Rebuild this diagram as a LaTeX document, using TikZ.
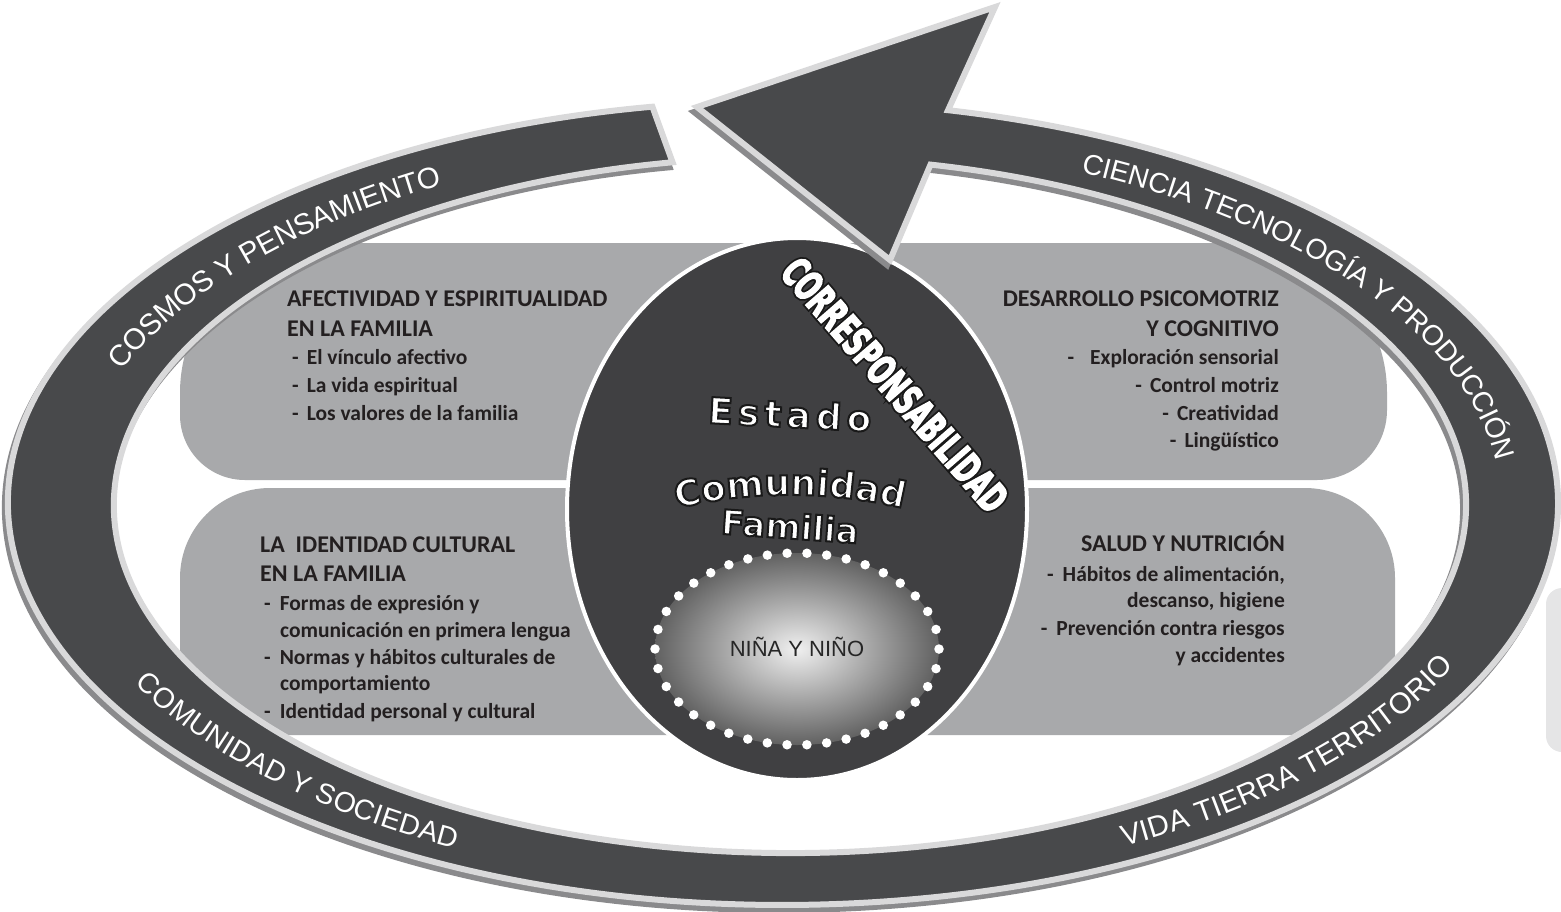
\documentclass[tikz,border=0pt]{standalone}
\usepackage{fontspec}
\usetikzlibrary{decorations.text}
\setmainfont{Liberation Sans}
\newfontfamily\ringfont{Liberation Sans}
\newfontfamily\boxfont{Carlito}
\newfontfamily\roundfont{DejaVu Sans}
\newfontfamily\narrowfont{DejaVu Sans Bold}[FakeStretch=0.6]
\definecolor{ringc}{HTML}{48494B}
\definecolor{rimc}{HTML}{D9D9DA}
\definecolor{shadc}{HTML}{8A8A8C}
\definecolor{boxc}{HTML}{A8A9AB}
\definecolor{centc}{HTML}{404042}
\definecolor{txtc}{HTML}{231F20}
\definecolor{edgec}{HTML}{E5E5E6}
\newcommand\outl{\special{pdf:literal direct 0.1 0.1 0.1 RG 2 Tr 2 w}}
\newcommand\outlthick{\special{pdf:literal direct 0.1 0.1 0.1 RG 2 Tr 5 w}}
\newcommand\whitebold{\special{pdf:literal direct 1 1 1 RG 2 Tr 1.4 w}}
\def\ringpath{(652.4,-106.7) arc[start angle=99.7, end angle=437.7, x radius=775, y radius=402] -- (995,-7) -- (697,-107) -- (890,-260) -- (930.5,-164.6) arc[start angle=438, end angle=100, x radius=676, y radius=348] -- cycle}
\begin{document}
\begin{tikzpicture}[x=1pt,y=1pt,
  boxshape/.style={fill=boxc},
  ringtext/.style={decorate, decoration={text along path, text align=left, raise=-10.5pt, text={#1}}},
  head/.style={font=\boxfont\bfseries\fontsize{24}{28}\selectfont, text=txtc, inner sep=0pt},
  item/.style={font=\boxfont\bfseries\fontsize{21.5}{26}\selectfont, text=txtc, inner sep=0pt},
  bigword/.style={font=\roundfont\bfseries\fontsize{36}{40}\selectfont, text=white, inner sep=0pt},
  corrword/.style={font=\narrowfont\fontsize{41}{41}\selectfont, rotate=-49, inner sep=0pt}]
\useasboundingbox (0,0) rectangle (1561,-911);
% partial shape at right edge
\fill[edgec, rounded corners=16pt] (1546,-588) rectangle (1600,-752);
% four grey boxes
\path[boxshape] (745,-243) -- (330,-243) arc[start angle=90,end angle=180,radius=150] -- (180,-415) arc[start angle=180,end angle=270,radius=65] -- (745,-480) -- cycle;
\path[boxshape] (745,-488) -- (270,-488) arc[start angle=90,end angle=180,radius=90] -- (180,-735) -- (745,-735) -- cycle;
\path[boxshape] (850,-243) -- (1237,-243) arc[start angle=90,end angle=0,radius=150] -- (1387,-410) arc[start angle=0,end angle=-90,radius=70] -- (850,-480) -- cycle;
\path[boxshape] (850,-488) -- (1305,-488) arc[start angle=90,end angle=0,radius=90] -- (1395,-735) -- (850,-735) -- cycle;
% central ellipse
\draw[fill=centc, draw=white, line width=4pt] (797,-509) ellipse[x radius=230, y radius=271];
% ring with arrow
\path[fill=shadc, draw=shadc, line width=6pt, shift={(-3,-5)}] \ringpath;
\path[fill=ringc, draw=rimc, line width=6pt] \ringpath;
% ring labels
\path[ringtext={|\ringfont\fontsize{29.5}{30}\selectfont\color{white}|COSMOS Y PENSAMIENTO}] (113.8,-363.5) arc[start angle=158, end angle=95, x radius=725, y radius=375];
\path[ringtext={|\ringfont\fontsize{28.5}{30}\selectfont\color{white}|CIENCIA TECNOLOGÍA Y PRODUCCIÓN}] (1083.2,-162.0) arc[start angle=65.8, end angle=-15, x radius=725, y radius=375];
\path[ringtext={|\ringfont\fontsize{28.5}{30}\selectfont\color{white}|COMUNIDAD Y SOCIEDAD}] (141.8,-676.0) arc[start angle=207.3, end angle=275, x radius=725, y radius=375];
\path[ringtext={|\ringfont\fontsize{29.5}{30}\selectfont\color{white}|VIDA TIERRA TERRITORIO}] (1121.9,-836.3) arc[start angle=297.6, end angle=360, x radius=725, y radius=375];
% inner dotted ellipse
\shade[inner color=black!6, outer color=black!62] (797,-649) ellipse[x radius=142, y radius=96];
\draw[white, line width=9.5pt, line cap=round, dash pattern=on 0pt off 19.86pt] (797,-649) ellipse[x radius=142, y radius=96];
\node[font=\ringfont\fontsize{22}{22}\selectfont, text=black!85] (child) at (797,-647) {NIÑA Y NIÑO};
% box texts
\node[head, anchor=base west] (tl1) at (287,-306) {AFECTIVIDAD Y ESPIRITUALIDAD};
\node[head, anchor=base west] (tl2) at (287,-336) {EN LA FAMILIA};
\node[item, anchor=base west] (tl3) at (292,-364) {-\hspace{8pt}El vínculo afectivo};
\node[item, anchor=base west] (tl4) at (292,-392) {-\hspace{8pt}La vida espiritual};
\node[item, anchor=base west] (tl5) at (292,-420) {-\hspace{8pt}Los valores de la familia};
\node[head, anchor=base east] (tr1) at (1279,-306) {DESARROLLO PSICOMOTRIZ};
\node[head, anchor=base east] (tr2) at (1279,-336) {Y COGNITIVO};
\node[item, anchor=base east] (tr3) at (1279,-364) {-\hspace{16pt}Exploración sensorial};
\node[item, anchor=base east] (tr4) at (1279,-392) {-\hspace{8pt}Control motriz};
\node[item, anchor=base east] (tr5) at (1279,-420) {-\hspace{8pt}Creatividad};
\node[item, anchor=base east] (tr6) at (1279,-447) {-\hspace{8pt}Lingüístico};
\node[head, anchor=base west] (bl1) at (260,-552) {LA\ \ IDENTIDAD CULTURAL};
\node[head, anchor=base west] (bl2) at (260,-581) {EN LA FAMILIA};
\node[item, anchor=base west] (bl3) at (264,-610) {-\hspace{9pt}Formas de expresión y};
\node[item, anchor=base west] (bl4) at (280,-637) {comunicación en primera lengua};
\node[item, anchor=base west] (bl5) at (264,-664) {-\hspace{9pt}Normas y hábitos culturales de};
\node[item, anchor=base west] (bl6) at (280,-690) {comportamiento};
\node[item, anchor=base west] (bl7) at (264,-718) {-\hspace{9pt}Identidad personal y cultural};
\node[head, anchor=base east] (br1) at (1285,-551) {SALUD Y NUTRICIÓN};
\node[item, anchor=base east] (br2) at (1285,-581) {-\hspace{9pt}Hábitos de alimentación,};
\node[item, anchor=base east] (br3) at (1285,-607) {descanso, higiene};
\node[item, anchor=base east] (br4) at (1285,-635) {-\hspace{9pt}Prevención contra riesgos};
\node[item, anchor=base east] (br5) at (1285,-662) {y accidentes};
% outlined words in the centre
\node[bigword, rotate=-3] (estado) at (790,-414) {\addfontfeature{LetterSpace=14}\outl Estado};
\node[bigword, font=\roundfont\bfseries\fontsize{34}{40}\selectfont, rotate=-4] (familia) at (790,-526) {\outl Familia};
\node[corrword, text=black] (corrback) at (895,-385) {\outlthick CORRESPONSABILIDAD};
\node[corrword, text=white] (corr) at (895,-385) {\whitebold CORRESPONSABILIDAD};
\path[decorate, decoration={text along path, text align=center, text={|\roundfont\bfseries\fontsize{36}{40}\selectfont\addfontfeature{LetterSpace=6}\color{white}\outl|Comunidad}}] (790,-982) ++(112:487) arc[start angle=112, end angle=68, radius=487];
\end{tikzpicture}
\end{document}
